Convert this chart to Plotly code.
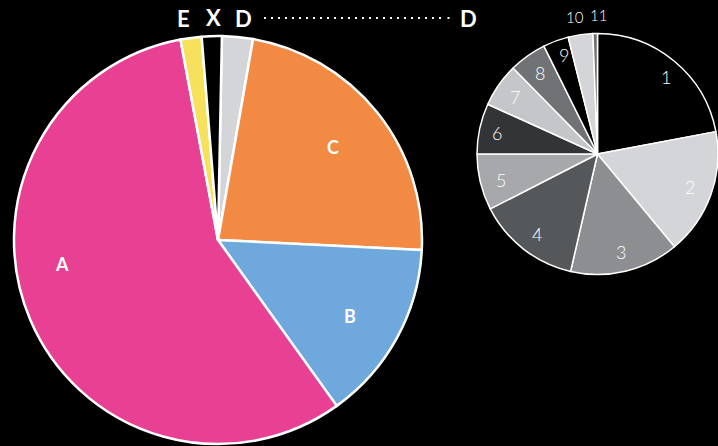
import plotly.graph_objects as go

W, H = 718, 446

# Main pie (clockwise from 12 o'clock)
main_labels = ["D", "C", "B", "A", "E", "X"]
main_values = [8.8, 82.9, 51.6, 205.0, 6.0, 5.7]
main_colors = ["#d4d5d9", "#f28a43", "#6fa8dc", "#e84193", "#f6e05c", "#000000"]

# Breakdown pie (clockwise from 12 o'clock)
sub_labels = ["1", "2", "3", "4", "5", "6", "7", "8", "9", "10", "11"]
sub_values = [79.3, 61.0, 52.6, 50.0, 27.1, 24.4, 21.1, 18.1, 12.3, 11.9, 2.2]
sub_colors = ["#000000", "#d4d5d8", "#8c8e91", "#55585b", "#a6a8ab", "#333436",
              "#c5c6c9", "#707275", "#000000", "#d4d5d8", "#707275"]


def px_x(x):
    return x / W


def px_y(y):
    return 1 - y / H


fig = go.Figure()
fig.add_trace(go.Pie(
    labels=main_labels, values=main_values, sort=False, direction="clockwise",
    rotation=1.1, textinfo="none", hoverinfo="label+value",
    marker=dict(colors=main_colors, line=dict(color="white", width=2.5)),
    domain=dict(x=[px_x(14), px_x(422)], y=[px_y(444), px_y(36)]),
    showlegend=False,
))
fig.add_trace(go.Pie(
    labels=sub_labels, values=sub_values, sort=False, direction="clockwise",
    rotation=0, textinfo="none", hoverinfo="label+value",
    marker=dict(colors=sub_colors, line=dict(color="white", width=1.5)),
    domain=dict(x=[px_x(477), 1], y=[px_y(274.5), px_y(33.5)]),
    showlegend=False,
))

bold = dict(family="Lato, 'Open Sans', sans-serif", size=18, color="white", weight="bold")
bold_top = dict(family="Lato, 'Open Sans', sans-serif", size=22, color="white", weight="bold")
light = dict(family="Lato, 'Open Sans', sans-serif", size=18, color="white", weight=300)
light_small = dict(family="Lato, 'Open Sans', sans-serif", size=15, color="white", weight=300)

annots = []
# inner main labels
for t, (x, y) in zip(["C", "B", "A"], [(333, 147), (350, 316), (62, 264)]):
    annots.append(dict(text=t, x=px_x(x), y=px_y(y), font=bold))
# top labels
for t, (x, y) in zip(["E", "X", "D", "D"], [(183, 18), (213, 17), (244, 18), (468, 18)]):
    annots.append(dict(text=t, x=px_x(x), y=px_y(y), font=bold_top))
# sub pie labels
sub_pos = [(666, 77), (690, 187), (621, 252), (537, 234), (501, 180), (497, 133),
           (515, 97), (540, 73), (564, 55)]
for t, (x, y) in zip(sub_labels[:9], sub_pos):
    annots.append(dict(text=t, x=px_x(x), y=px_y(y), font=light))
for t, (x, y) in zip(sub_labels[9:], [(575, 17), (598, 15)]):
    annots.append(dict(text=t, x=px_x(x), y=px_y(y), font=light_small))

for a in annots:
    a.update(xref="paper", yref="paper", showarrow=False, xanchor="center", yanchor="middle")

fig.update_layout(
    width=W, height=H,
    margin=dict(l=0, r=0, t=0, b=0),
    paper_bgcolor="black", plot_bgcolor="black",
    annotations=annots,
    shapes=[
        dict(type="line", xref="paper", yref="paper",
             x0=px_x(264), x1=px_x(443), y0=px_y(18), y1=px_y(18),
             line=dict(color="white", width=2, dash="2px,5px")),
        dict(type="line", xref="paper", yref="paper",
             x0=px_x(447.5), x1=px_x(449.5), y0=px_y(18), y1=px_y(18),
             line=dict(color="white", width=2)),
    ],
)

fig.write_html(
    "out.html",
    config={"displayModeBar": False},
    post_script="document.body.style.margin='0';document.body.style.background='black';"
                "document.body.style.overflow='hidden';",
)
